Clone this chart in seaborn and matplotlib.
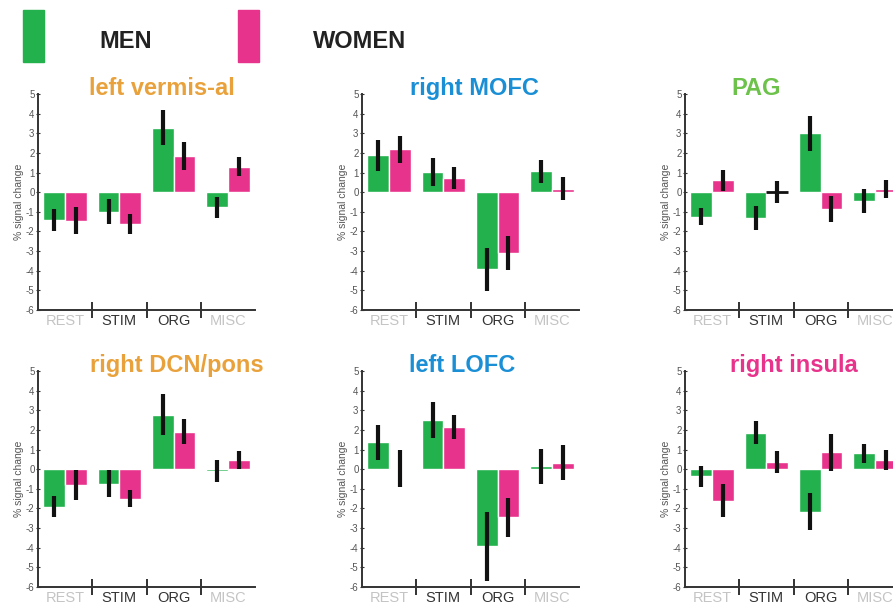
import numpy as np
import pandas as pd
import matplotlib
matplotlib.use("Agg")
import matplotlib.pyplot as plt
from matplotlib.patches import Rectangle
import seaborn as sns

# =========================
# DATA
# =========================

conditions = ["REST", "STIM", "ORG", "MISC"]
regions = ["left vermis-al", "right MOFC", "PAG",
           "right DCN/pons", "left LOFC", "right insula"]
title_colors = ["#E9A23B", "#1A8FD6", "#6CC24A",
                "#E9A23B", "#1A8FD6", "#E8338C"]

men_mean = [
    [-1.42, -0.99, 3.28, -0.78],
    [1.88, 1.02, -3.92, 1.06],
    [-1.25, -1.33, 2.99, -0.46],
    [-1.91, -0.73, 2.78, -0.09],
    [1.36, 2.51, -3.93, 0.14],
    [-0.37, 1.86, -2.17, 0.80],
]
men_err = [
    [0.55, 0.62, 0.90, 0.55],
    [0.80, 0.70, 1.10, 0.58],
    [0.44, 0.62, 0.89, 0.62],
    [0.53, 0.68, 1.05, 0.55],
    [0.90, 0.90, 1.75, 0.90],
    [0.53, 0.58, 0.95, 0.48],
]
women_mean = [
    [-1.45, -1.62, 1.84, 1.30],
    [2.18, 0.72, -3.09, 0.17],
    [0.60, 0.03, -0.85, 0.15],
    [-0.82, -1.50, 1.91, 0.46],
    [0.03, 2.15, -2.46, 0.34],
    [-1.61, 0.37, 0.85, 0.47],
]
women_err = [
    [0.68, 0.50, 0.72, 0.48],
    [0.70, 0.55, 0.88, 0.58],
    [0.55, 0.56, 0.68, 0.45],
    [0.77, 0.45, 0.65, 0.47],
    [0.95, 0.60, 1.00, 0.91],
    [0.83, 0.57, 0.93, 0.51],
]

green = "#22B14C"
pink = "#E8338C"
label_colors = ["#C4C4C4", "#333333", "#333333", "#C4C4C4"]

# =========================
# LAYOUT
# =========================

sns.set_style("white")
plt.rcParams["font.family"] = ["Liberation Sans", "DejaVu Sans"]
plt.rcParams["axes.unicode_minus"] = False

W, H = 893, 605
fig = plt.figure(figsize=(W / 100, H / 100), dpi=100)

col_left = [38, 362, 685]
row_top = [94, 371]
ax_w, ax_h = 217, 216

title_pos = [(0.571, 1.025), (0.516, 1.025), (0.327, 1.025),
             (0.640, 1.025), (0.461, 1.025), (0.502, 1.025)]

for i, region in enumerate(regions):
    r, c = divmod(i, 3)
    left = col_left[c] / W
    bottom = 1 - (row_top[r] + ax_h) / H
    ax = fig.add_axes([left, bottom, ax_w / W, ax_h / H])

    df = pd.DataFrame({
        "condition": conditions * 2,
        "sex": ["MEN"] * 4 + ["WOMEN"] * 4,
        "value": men_mean[i] + women_mean[i],
    })
    sns.barplot(data=df, x="condition", y="value", hue="sex",
                order=conditions, hue_order=["MEN", "WOMEN"],
                palette=[green, pink], errorbar=None, width=0.8,
                saturation=1, legend=False, ax=ax)

    # error bars on top of the seaborn bars
    bar_groups = list(ax.containers)
    errs = [men_err[i], women_err[i]]
    means = [men_mean[i], women_mean[i]]
    for k, cont in enumerate(bar_groups):
        xs = [p.get_x() + p.get_width() / 2 for p in cont.patches]
        ax.errorbar(xs, means[k], yerr=errs[k], fmt="none",
                    ecolor="#111111", elinewidth=3, capsize=0, zorder=5)

    # the near-zero PAG women STIM bar shows as a black dash
    if region == "PAG":
        p = bar_groups[1].patches[1]
        p.set_edgecolor("#111111")
        p.set_linewidth(2)

    ax.set_ylim(-6, 5)
    ax.set_xlim(-0.5, 3.5)
    ax.set_yticks(np.arange(-6, 6, 1))
    ax.tick_params(axis="y", labelsize=7, labelcolor="#555555",
                   direction="inout", length=3, width=0.8, pad=1,
                   left=True, color="#333333")

    ax.set_xticks(range(4))
    ax.set_xticklabels(conditions, fontsize=10.5)
    for lab, col in zip(ax.get_xticklabels(), label_colors):
        lab.set_color(col)
    ax.set_xticks([0.5, 1.5, 2.5], minor=True)
    ax.tick_params(axis="x", which="major", length=0, pad=3)
    ax.tick_params(axis="x", which="minor", direction="inout",
                   length=12, width=1.3, color="#222222", bottom=True)

    ax.set_xlabel("")
    ax.set_ylabel("% signal change", fontsize=7.5, color="#555555",
                  labelpad=1)

    for side in ["top", "right"]:
        ax.spines[side].set_visible(False)
    for side in ["left", "bottom"]:
        ax.spines[side].set_color("#333333")
        ax.spines[side].set_linewidth(1.4)

    tx, ty = title_pos[i]
    ax.text(tx, ty, region, transform=ax.transAxes, ha="center",
            va="center", fontsize=17, fontweight="bold",
            color=title_colors[i], clip_on=False)

# =========================
# LEGEND
# =========================

fig.add_artist(Rectangle((23 / W, 1 - 62 / H), 21 / W, 52 / H,
                         transform=fig.transFigure, color=green))
fig.add_artist(Rectangle((238 / W, 1 - 62 / H), 21 / W, 52 / H,
                         transform=fig.transFigure, color=pink))
fig.text(99 / W, 1 - 42 / H, "MEN", fontsize=17, fontweight="bold",
         color="#222222", va="center", ha="left")
fig.text(313 / W, 1 - 42 / H, "WOMEN", fontsize=17, fontweight="bold",
         color="#222222", va="center", ha="left")

fig.savefig("out.png", dpi=100)
